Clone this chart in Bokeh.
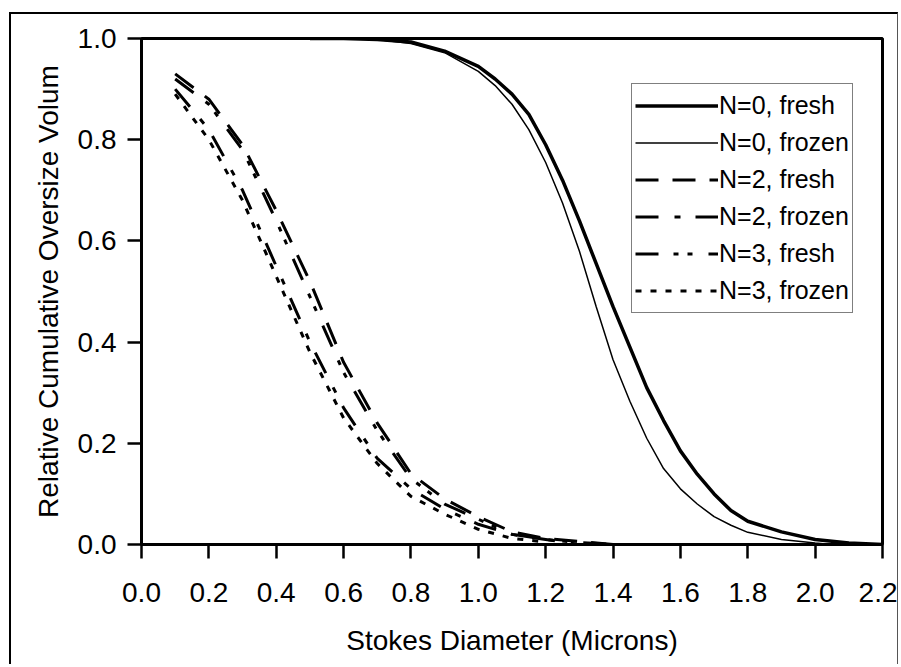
from bokeh.plotting import figure
from bokeh.models import Range1d, FixedTicker, PrintfTickFormatter, Legend, LegendItem
from bokeh.embed import file_html
from bokeh.resources import INLINE

# ---- data ----
x_ticks = [0.0, 0.2, 0.4, 0.6, 0.8, 1.0, 1.2, 1.4, 1.6, 1.8, 2.0, 2.2]
y_ticks = [0.0, 0.2, 0.4, 0.6, 0.8, 1.0]

n0_fresh_x = [0.5, 0.6, 0.7, 0.8, 0.9, 1.0, 1.05, 1.1, 1.15, 1.2, 1.25, 1.3, 1.35, 1.4,
              1.45, 1.5, 1.55, 1.6, 1.65, 1.7, 1.75, 1.8, 1.9, 2.0, 2.1, 2.2]
n0_fresh_y = [1.0, 1.0, 0.998, 0.993, 0.975, 0.945, 0.92, 0.89, 0.85, 0.79, 0.72, 0.64, 0.555, 0.47,
              0.39, 0.31, 0.245, 0.185, 0.139, 0.1, 0.067, 0.046, 0.025, 0.01, 0.003, 0.0]

n0_frozen_x = [0.5, 0.6, 0.7, 0.8, 0.9, 1.0, 1.05, 1.1, 1.15, 1.2, 1.25, 1.3, 1.35, 1.4,
               1.45, 1.5, 1.55, 1.6, 1.65, 1.7, 1.75, 1.8, 1.9, 2.0, 2.05]
n0_frozen_y = [1.0, 1.0, 0.998, 0.99, 0.972, 0.935, 0.907, 0.87, 0.82, 0.755, 0.675, 0.58, 0.47, 0.365,
               0.283, 0.21, 0.15, 0.11, 0.08, 0.055, 0.038, 0.024, 0.01, 0.003, 0.0]

n2_fresh_x = [0.1, 0.2, 0.3, 0.4, 0.5, 0.6, 0.7, 0.8, 0.9, 1.0, 1.1, 1.2, 1.3, 1.4]
n2_fresh_y = [0.93, 0.88, 0.79, 0.66, 0.52, 0.36, 0.24, 0.14, 0.09, 0.055, 0.025, 0.012, 0.006, 0.0]

n2_frozen_x = [0.1, 0.2, 0.3, 0.4, 0.5, 0.6, 0.7, 0.8, 0.9, 1.0, 1.1, 1.2, 1.3]
n2_frozen_y = [0.90, 0.82, 0.70, 0.55, 0.40, 0.27, 0.17, 0.11, 0.07, 0.04, 0.02, 0.01, 0.0]

n3_fresh_x = [0.1, 0.2, 0.3, 0.4, 0.5, 0.6, 0.7, 0.8, 0.9, 1.0, 1.1, 1.2, 1.3, 1.4]
n3_fresh_y = [0.92, 0.87, 0.78, 0.64, 0.49, 0.34, 0.225, 0.13, 0.08, 0.05, 0.02, 0.01, 0.004, 0.0]

n3_frozen_x = [0.1, 0.2, 0.3, 0.4, 0.5, 0.6, 0.7, 0.8, 0.9, 1.0, 1.1, 1.2]
n3_frozen_y = [0.89, 0.80, 0.68, 0.53, 0.38, 0.25, 0.16, 0.095, 0.06, 0.03, 0.012, 0.005]

FONT = "Liberation Sans"

p = figure(width=889, height=652, output_backend="svg", toolbar_location=None,
           x_range=Range1d(0, 2.2), y_range=Range1d(0, 1.0),
           min_border_left=130, min_border_right=18, min_border_top=24, min_border_bottom=122)
p.margin = (12, 0, 0, 9)
p.styles = {"border-left": "2px solid black", "border-top": "2px solid black",
            "border-right": "1px solid #555"}

p.xgrid.visible = False
p.ygrid.visible = False
p.outline_line_color = "black"
p.outline_line_width = 3
p.background_fill_color = "white"
p.border_fill_color = "white"

for ax in (p.xaxis[0], p.yaxis[0]):
    ax.axis_line_width = 3
    ax.major_tick_line_width = 2.5
    ax.major_tick_in = 0
    ax.major_tick_out = 14
    ax.minor_tick_line_color = None
    ax.major_label_text_font = FONT
    ax.major_label_text_font_size = "28px"
    ax.major_label_text_color = "black"
    ax.axis_label_text_font = FONT
    ax.axis_label_text_font_size = "28px"
    ax.axis_label_text_font_style = "normal"
    ax.axis_label_text_color = "black"
    ax.formatter = PrintfTickFormatter(format="%.1f")

p.xaxis[0].ticker = FixedTicker(ticks=x_ticks)
p.yaxis[0].ticker = FixedTicker(ticks=y_ticks)
p.xaxis[0].major_label_standoff = 24
p.yaxis[0].major_label_standoff = 11
p.xaxis[0].axis_label = "Stokes Diameter (Microns)"
p.yaxis[0].axis_label = "Relative Cumulative Oversize Volum"
p.xaxis[0].axis_label_standoff = 20
p.yaxis[0].axis_label_standoff = 11

r0f = p.line(n0_fresh_x, n0_fresh_y, line_color="black", line_width=3.5)
r0z = p.line(n0_frozen_x, n0_frozen_y, line_color="black", line_width=1.5)
r2f = p.line(n2_fresh_x, n2_fresh_y, line_color="black", line_width=3, line_dash="23 14")
r2z = p.line(n2_frozen_x, n2_frozen_y, line_color="black", line_width=3, line_dash="23 16 6 15")
r3f = p.line(n3_fresh_x, n3_fresh_y, line_color="black", line_width=3, line_dash="23 15 5 9 5 16")
r3z = p.line(n3_frozen_x, n3_frozen_y, line_color="black", line_width=3, line_dash="6 9")

legend = Legend(items=[
    LegendItem(label="N=0, fresh", renderers=[r0f]),
    LegendItem(label="N=0, frozen", renderers=[r0z]),
    LegendItem(label="N=2, fresh", renderers=[r2f]),
    LegendItem(label="N=2, frozen", renderers=[r2z]),
    LegendItem(label="N=3, fresh", renderers=[r3f]),
    LegendItem(label="N=3, frozen", renderers=[r3z]),
], location=(490, 231))
legend.glyph_width = 83
legend.glyph_height = 37
legend.label_height = 37
legend.spacing = 0
legend.padding = 3
legend.margin = 0
legend.label_standoff = 1
legend.label_text_font = FONT
legend.label_text_font_size = "25px"
legend.label_text_color = "black"
legend.border_line_color = "black"
legend.border_line_width = 1.5
legend.background_fill_color = "white"
legend.background_fill_alpha = 1.0
p.add_layout(legend, "center")

open("out.html", "w").write(file_html(p, INLINE))
